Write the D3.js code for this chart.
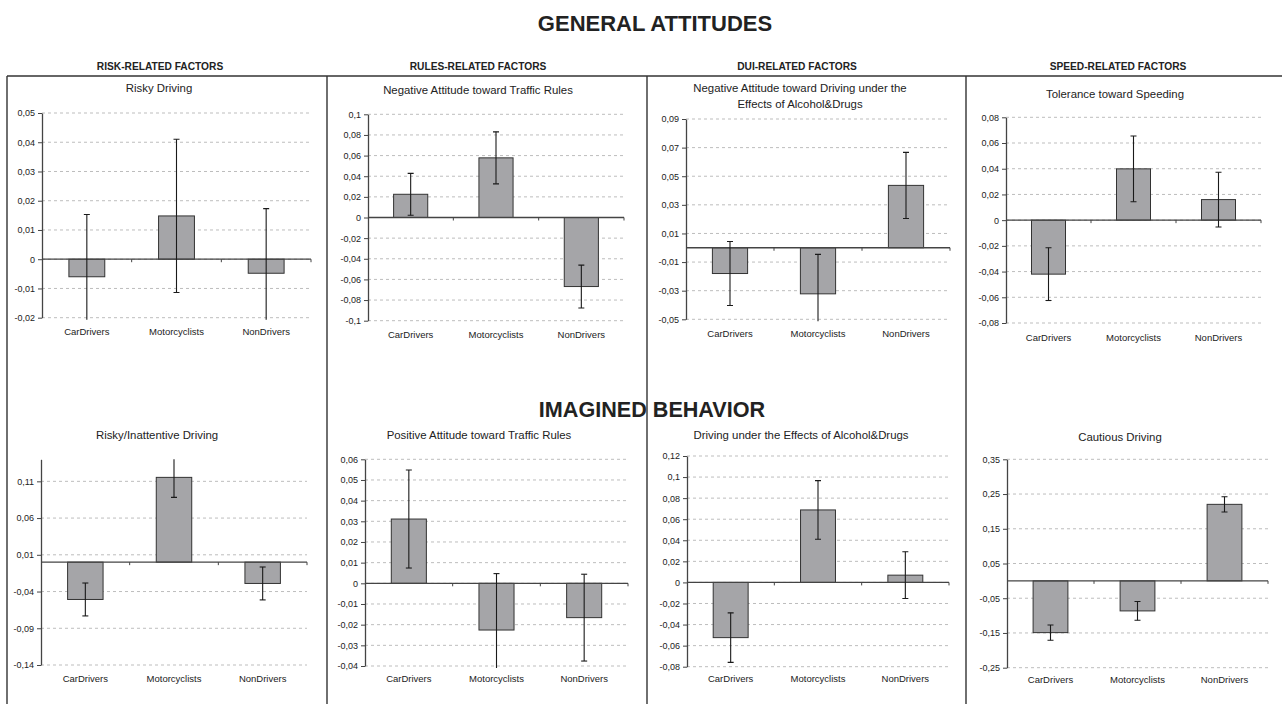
<!DOCTYPE html>
<html>
<head>
<meta charset="utf-8">
<script src="https://cdn.jsdelivr.net/npm/d3@7"></script>
<style>
  html, body { margin: 0; padding: 0; background: #fff; }
  svg { display: block; font-family: Arial, "Liberation Sans", Helvetica, sans-serif; }
</style>
</head>
<body>
<svg id="chart" width="1282" height="704"></svg>
<script>
// Groups compared in every panel
const categories = ["CarDrivers", "Motorcyclists", "NonDrivers"];

// General attitudes: mean factor scores and error-bar half-widths
const riskyDrivingMeans = [-0.006, 0.0148, -0.0048];
const riskyDrivingErr   = [0.0213, 0.0262, 0.0221];
const negRulesMeans     = [0.0225, 0.0578, -0.0669];
const negRulesErr       = [0.0203, 0.0252, 0.0208];
const negDuiMeans       = [-0.018, -0.0322, 0.0436];
const negDuiErr         = [0.0224, 0.0276, 0.0231];
const speedingMeans     = [-0.042, 0.0399, 0.016];
const speedingErr       = [0.0205, 0.0256, 0.0213];

// Imagined behavior: mean factor scores and error-bar half-widths
const inattentiveMeans  = [-0.0508, 0.1154, -0.029];
const inattentiveErr    = [0.0224, 0.0272, 0.0224];
const posRulesMeans     = [0.0311, -0.0226, -0.0166];
const posRulesErr       = [0.0237, 0.0273, 0.021];
const duiDrivingMeans   = [-0.0524, 0.0688, 0.0069];
const duiDrivingErr     = [0.0235, 0.0278, 0.0222];
const cautiousMeans     = [-0.149, -0.0865, 0.2203];
const cautiousErr       = [0.0218, 0.027, 0.022];

// Value-axis tick labels for each panel
const riskyDrivingTicks = [-0.02, -0.01, 0, 0.01, 0.02, 0.03, 0.04, 0.05];
const negRulesTicks     = [-0.1, -0.08, -0.06, -0.04, -0.02, 0, 0.02, 0.04, 0.06, 0.08, 0.1];
const negDuiTicks       = [-0.05, -0.03, -0.01, 0.01, 0.03, 0.05, 0.07, 0.09];
const speedingTicks     = [-0.08, -0.06, -0.04, -0.02, 0, 0.02, 0.04, 0.06, 0.08];
const inattentiveTicks  = [-0.14, -0.09, -0.04, 0.01, 0.06, 0.11];
const posRulesTicks     = [-0.04, -0.03, -0.02, -0.01, 0, 0.01, 0.02, 0.03, 0.04, 0.05, 0.06];
const duiDrivingTicks   = [-0.08, -0.06, -0.04, -0.02, 0, 0.02, 0.04, 0.06, 0.08, 0.1, 0.12];
const cautiousTicks     = [-0.25, -0.15, -0.05, 0.05, 0.15, 0.25, 0.35];

// Section and column headings
const sectionTitles = ["GENERAL ATTITUDES", "IMAGINED BEHAVIOR"];
const columnTitles  = ["RISK-RELATED FACTORS", "RULES-RELATED FACTORS", "DUI-RELATED FACTORS", "SPEED-RELATED FACTORS"];

// Panel layout: plot box, value domain, title placement
const panels = [
  { title: ["Risky Driving"], tx: 159, ty: 92, means: riskyDrivingMeans, err: riskyDrivingErr, ticks: riskyDrivingTicks,
    domain: [-0.02, 0.05], x0: 42, x1: 311, yTop: 113, yBot: 317.7, labelY: 335 },
  { title: ["Negative Attitude toward Traffic Rules"], tx: 478, ty: 94, means: negRulesMeans, err: negRulesErr, ticks: negRulesTicks,
    domain: [-0.1, 0.1], x0: 368, x1: 624, yTop: 114.3, yBot: 320.7, labelY: 338 },
  { title: ["Negative Attitude toward Driving under the", "Effects of Alcohol&Drugs"], tx: 800, ty: 92, means: negDuiMeans, err: negDuiErr, ticks: negDuiTicks,
    domain: [-0.05, 0.09], x0: 686, x1: 950, yTop: 119, yBot: 319.3, labelY: 337 },
  { title: ["Tolerance toward Speeding"], tx: 1115, ty: 98, means: speedingMeans, err: speedingErr, ticks: speedingTicks,
    domain: [-0.08, 0.08], x0: 1006, x1: 1261, yTop: 117.3, yBot: 323, labelY: 341 },
  { title: ["Risky/Inattentive Driving"], tx: 157, ty: 439, means: inattentiveMeans, err: inattentiveErr, ticks: inattentiveTicks,
    domain: [-0.14, 0.14], x0: 41, x1: 307, yTop: 459.3, yBot: 665, labelY: 682 },
  { title: ["Positive Attitude toward Traffic Rules"], tx: 479, ty: 439, means: posRulesMeans, err: posRulesErr, ticks: posRulesTicks,
    domain: [-0.04, 0.06], x0: 365, x1: 628, yTop: 459.3, yBot: 666, labelY: 682 },
  { title: ["Driving under the Effects of Alcohol&Drugs"], tx: 801, ty: 439, means: duiDrivingMeans, err: duiDrivingErr, ticks: duiDrivingTicks,
    domain: [-0.08, 0.12], x0: 687, x1: 949, yTop: 456, yBot: 666.7, labelY: 682 },
  { title: ["Cautious Driving"], tx: 1120, ty: 441, means: cautiousMeans, err: cautiousErr, ticks: cautiousTicks,
    domain: [-0.25, 0.35], x0: 1007, x1: 1268, yTop: 459.3, yBot: 667.7, labelY: 683 }
];

const svg = d3.select("#chart");
const ink = "#222";
const fmt = v => String(+v.toFixed(2)).replace(".", ",");

// Frame lines separating the four factor columns
const frame = svg.append("g").attr("stroke", "#333").attr("stroke-width", 1.4).attr("fill", "none");
frame.append("line").attr("x1", 7).attr("x2", 1282).attr("y1", 76).attr("y2", 76);
[7, 327, 647, 966].forEach(x =>
  frame.append("line").attr("x1", x).attr("x2", x).attr("y1", 76).attr("y2", 704));

// Section headings
svg.append("text").attr("x", 655).attr("y", 31).attr("text-anchor", "middle")
  .attr("font-size", 22).attr("font-weight", "bold").attr("fill", ink).text(sectionTitles[0]);
svg.append("text").attr("x", 652).attr("y", 417).attr("text-anchor", "middle")
  .attr("font-size", 21.6).attr("font-weight", "bold").attr("fill", ink).text(sectionTitles[1]);

// Column headings
const colCenters = [160, 478, 797, 1118];
columnTitles.forEach((t, i) =>
  svg.append("text").attr("x", colCenters[i]).attr("y", 70).attr("text-anchor", "middle")
    .attr("font-size", 10.2).attr("font-weight", "bold").attr("fill", ink).text(t));

panels.forEach((p, pi) => {
  const g = svg.append("g");
  const x = d3.scaleBand().domain(categories).range([p.x0, p.x1]).paddingInner(0.6).paddingOuter(0.3);
  const y = d3.scaleLinear().domain(p.domain).range([p.yBot, p.yTop]);
  const step = x.step();

  // title
  const title = g.append("text").attr("text-anchor", "middle").attr("font-size", 11.4).attr("fill", ink);
  p.title.forEach((line, li) =>
    title.append("tspan").attr("x", p.tx).attr("y", p.ty + li * 15.5).text(line));

  // dashed gridlines
  g.append("g").selectAll("line").data(p.ticks).join("line")
    .attr("x1", p.x0).attr("x2", p.x1)
    .attr("y1", d => y(d)).attr("y2", d => y(d))
    .attr("stroke", "#bdbdbd").attr("stroke-width", 1).attr("stroke-dasharray", "3,3");

  // value axis
  const yAxis = g.append("g").attr("transform", `translate(${p.x0},0)`)
    .call(d3.axisLeft(y).tickValues(p.ticks).tickFormat(fmt).tickSize(4).tickSizeOuter(0).tickPadding(3));
  yAxis.select(".domain").attr("stroke", "#444").attr("stroke-width", 1.3);
  yAxis.selectAll(".tick line").attr("stroke", "#444");
  yAxis.selectAll("text").attr("font-size", 9).attr("fill", ink).attr("font-family", "Arial, 'Liberation Sans', sans-serif");

  // bars
  g.append("g").selectAll("rect").data(p.means).join("rect")
    .attr("x", (d, i) => x(categories[i]))
    .attr("width", x.bandwidth())
    .attr("y", d => Math.min(y(d), y(0)))
    .attr("height", d => Math.abs(y(d) - y(0)))
    .attr("fill", "#a5a5a8").attr("stroke", "#333").attr("stroke-width", 1);

  // category axis along zero
  const y0 = y(0);
  g.append("line").attr("x1", p.x0).attr("x2", p.x1).attr("y1", y0).attr("y2", y0)
    .attr("stroke", "#444").attr("stroke-width", 1.3);
  g.append("g").selectAll("line").data([1, 2, 3]).join("line")
    .attr("x1", d => p.x0 + d * step).attr("x2", d => p.x0 + d * step)
    .attr("y1", y0).attr("y2", y0 + 3).attr("stroke", "#444").attr("stroke-width", 1);

  // error bars, clipped to the plot box
  const clipId = "clip" + pi;
  svg.append("clipPath").attr("id", clipId).append("rect")
    .attr("x", p.x0 - 10).attr("y", p.yTop).attr("width", p.x1 - p.x0 + 20).attr("height", p.yBot - p.yTop + 2);
  const eb = g.append("g").attr("clip-path", `url(#${clipId})`).attr("stroke", "#1a1a1a").attr("stroke-width", 1.1);
  p.means.forEach((m, i) => {
    const cx = x(categories[i]) + x.bandwidth() / 2;
    const hi = y(m + p.err[i]), lo = y(m - p.err[i]);
    eb.append("line").attr("x1", cx).attr("x2", cx).attr("y1", hi).attr("y2", lo);
    eb.append("line").attr("x1", cx - 3).attr("x2", cx + 3).attr("y1", hi).attr("y2", hi);
    eb.append("line").attr("x1", cx - 3).attr("x2", cx + 3).attr("y1", lo).attr("y2", lo);
  });

  // category labels
  g.append("g").selectAll("text").data(categories).join("text")
    .attr("x", d => x(d) + x.bandwidth() / 2).attr("y", p.labelY)
    .attr("text-anchor", "middle").attr("font-size", 9.5).attr("fill", ink).text(d => d);
});
</script>
</body>
</html>
